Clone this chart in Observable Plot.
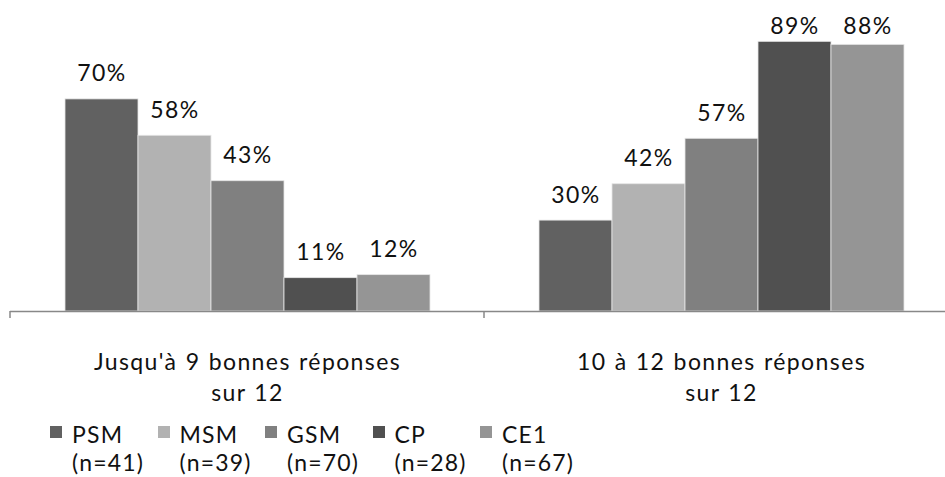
<!DOCTYPE html>
<html>
<head>
<meta charset="utf-8">
<script src="https://cdn.jsdelivr.net/npm/d3@7"></script>
<script src="https://cdn.jsdelivr.net/npm/@observablehq/plot@0.6"></script>
<style>
  html, body { margin: 0; padding: 0; background: #fff; }
  #wrap { position: relative; width: 945px; height: 477px; overflow: hidden; font-family: Lato, "Noto Sans", sans-serif; }
  #legend { position: relative; height: 67px; font-size: 23px; line-height: 28px; color: #111; letter-spacing: 1.2px; }
  .item { position: absolute; top: 9.5px; }
  .sw { position: absolute; left: 0; top: 6px; width: 12px; height: 12px; }
  .lab { position: absolute; left: 22px; top: 0; white-space: nowrap; }
</style>
</head>
<body>
<div id="wrap"><div id="chart"></div><div id="legend"></div></div>
<script>
const groups = ["Jusqu'à 9 bonnes réponses\nsur 12", "10 à 12 bonnes réponses\nsur 12"];
const series = ["PSM", "MSM", "GSM", "CP", "CE1"];
const seriesN = ["(n=41)", "(n=39)", "(n=70)", "(n=28)", "(n=67)"];
const colors = ["#616161", "#b2b2b2", "#808080", "#505050", "#959595"];
const valuesGroup1 = [70, 58, 43, 11, 12];
const valuesGroup2 = [30, 42, 57, 89, 88];

const data = [];
series.forEach((s, i) => {
  data.push({group: groups[0], series: s, value: valuesGroup1[i]});
  data.push({group: groups[1], series: s, value: valuesGroup2[i]});
});

// labels are kept inside the plot area (clamped near the top), as in the original
const labelCeiling = 85.5;

const font = "Lato, 'Noto Sans', sans-serif";
const chart = Plot.plot({
  width: 945,
  height: 410,
  marginTop: 8,
  marginBottom: 99,
  marginLeft: 10,
  marginRight: 0,
  style: {fontFamily: font, background: "transparent", letterSpacing: "1.4px", wordSpacing: "1px"},
  fx: {domain: groups, range: [10, 958], padding: 0, axis: null},
  x: {domain: series, paddingInner: 0, paddingOuter: 0.72, axis: null},
  y: {domain: [0, 100], axis: null},
  color: {domain: series, range: colors},
  marks: [
    Plot.barY(data, {fx: "group", x: "series", y: "value", fill: "series", stroke: "#e6e6e6", strokeWidth: 0.8}),
    Plot.text(data, {fx: "group", x: "series", y: d => Math.min(d.value, labelCeiling), text: d => d.value + "%", lineAnchor: "bottom", dy: -18, fontSize: 23, fill: "#111"}),
    Plot.ruleY([0], {stroke: "#888", strokeWidth: 1.5}),
    Plot.text(groups, {fx: d => d, text: d => d, frameAnchor: "bottom", lineAnchor: "top", dy: 36, fontSize: 23, lineHeight: 1.36, fill: "#111"})
  ]
});
document.getElementById("chart").appendChild(chart);

// tick marks at the category boundaries, derived from the fx scale
const fx = chart.scale("fx");
const yS = chart.scale("y");
const edges = [fx.apply(groups[0]), ...groups.map(g => fx.apply(g) + fx.bandwidth)];
const y0 = yS.apply(0);
d3.select(chart).append("g")
  .selectAll("line").data(edges).join("line")
  .attr("x1", d => d).attr("x2", d => d)
  .attr("y1", y0).attr("y2", y0 + 7)
  .attr("stroke", "#888").attr("stroke-width", 1.5);

// legend
const legend = d3.select("#legend");
series.forEach((s, i) => {
  const it = legend.append("div").attr("class", "item").style("left", (50 + i * 107.5) + "px");
  it.append("div").attr("class", "sw").style("background", colors[i]);
  it.append("div").attr("class", "lab").html(s + "<br>" + seriesN[i]);
});
</script>
</body>
</html>
